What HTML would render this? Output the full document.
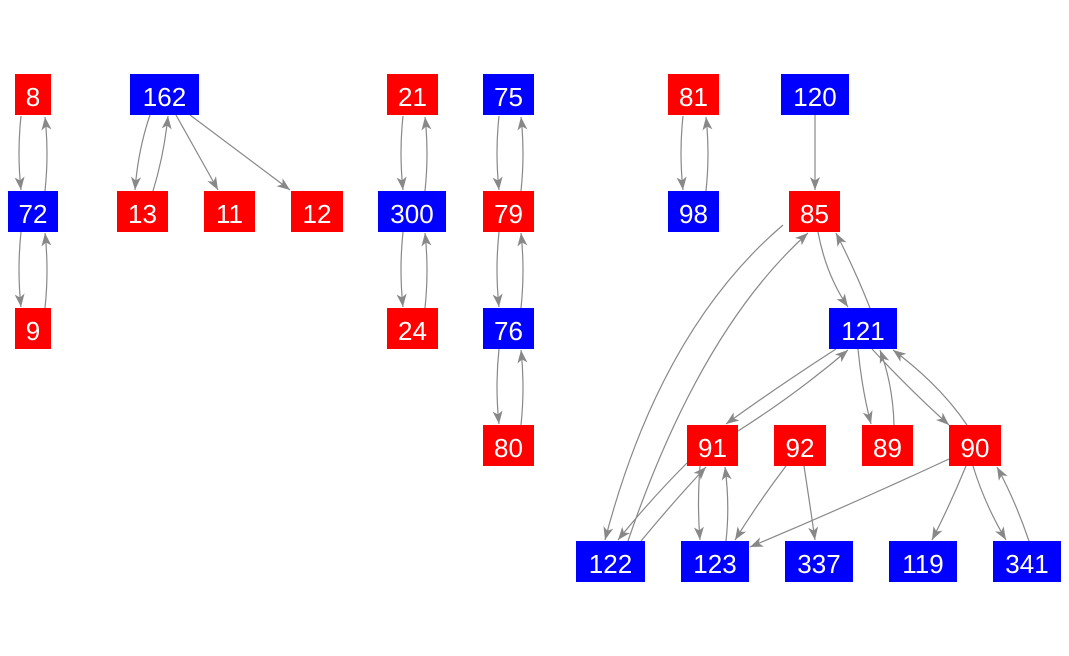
<!DOCTYPE html>
<html><head><meta charset="utf-8"><style>
html,body{margin:0;padding:0;background:#fff;}
svg{display:block}
text{font-family:"Liberation Sans",Arial,sans-serif;font-size:26px;fill:#fff;text-anchor:middle;dominant-baseline:central}
.e{fill:none;stroke:#888;stroke-width:1.2;marker-end:url(#a)}
</style></head><body>
<svg width="1069" height="656" viewBox="0 0 1069 656" xmlns="http://www.w3.org/2000/svg">
<defs><marker id="a" markerUnits="userSpaceOnUse" markerWidth="14" markerHeight="12" refX="13" refY="5" orient="auto"><path d="M0,0 L13,5 L0,10 L3.5,5 Z" fill="#888"/></marker></defs>
<g>
<path class="e" d="M21 116 Q17 153 21 190"/>
<path class="e" d="M45 191 Q49 153 45 117"/>
<path class="e" d="M21 232 Q17 270 21 307"/>
<path class="e" d="M45 308 Q49 270 45 233"/>
<path class="e" d="M150 115 Q138 150 135 190"/>
<path class="e" d="M153 191 Q164 155 168 116"/>
<path class="e" d="M176 115 L218 190"/>
<path class="e" d="M190 115 L290 190"/>
<path class="e" d="M403 116 Q399 153 403 190"/>
<path class="e" d="M425 191 Q429 153 425 117"/>
<path class="e" d="M403 232 Q399 270 403 307"/>
<path class="e" d="M425 308 Q429 270 425 233"/>
<path class="e" d="M499 116 Q495 153 499 190"/>
<path class="e" d="M521 191 Q525 153 521 117"/>
<path class="e" d="M499 232 Q495 270 499 307"/>
<path class="e" d="M521 308 Q525 270 521 233"/>
<path class="e" d="M499 349 Q495 387 499 424"/>
<path class="e" d="M521 425 Q525 387 521 350"/>
<path class="e" d="M683 116 Q679 153 683 190"/>
<path class="e" d="M706 191 Q710 153 706 117"/>
<path class="e" d="M815 115 L815 190"/>
<path class="e" d="M818 232 Q826 275 848 307"/>
<path class="e" d="M870 308 Q855 270 836 233"/>
<path class="e" d="M783 225 Q660 330 605 540"/>
<path class="e" d="M628 541 Q700 330 808 233"/>
<path class="e" d="M836 349 Q780 385 726 424"/>
<path class="e" d="M738 431 Q795 395 848 350"/>
<path class="e" d="M858 349 Q862 390 871 424"/>
<path class="e" d="M894 425 Q893 385 880 350"/>
<path class="e" d="M872 349 Q910 390 949 425"/>
<path class="e" d="M967 425 Q940 385 893 350"/>
<path class="e" d="M687 463 Q650 500 618 540"/>
<path class="e" d="M641 541 Q675 500 706 467"/>
<path class="e" d="M700 466 Q697 505 700 540"/>
<path class="e" d="M726 541 Q730 505 725 467"/>
<path class="e" d="M786 466 Q760 500 735 540"/>
<path class="e" d="M804 466 Q810 505 815 540"/>
<path class="e" d="M949 459 Q850 505 750 547"/>
<path class="e" d="M966 466 Q950 505 932 540"/>
<path class="e" d="M973 466 Q985 505 1006 540"/>
<path class="e" d="M1029 541 Q1015 500 997 467"/>
</g>
<g>
<rect x="15" y="74" width="36" height="41" fill="#f00"/><text x="33" y="97">8</text>
<rect x="8" y="191" width="50" height="41" fill="#00f"/><text x="33" y="214">72</text>
<rect x="15" y="308" width="36" height="41" fill="#f00"/><text x="33" y="331">9</text>
<rect x="130" y="74" width="69" height="41" fill="#00f"/><text x="164.5" y="97">162</text>
<rect x="117" y="191" width="51" height="41" fill="#f00"/><text x="142.5" y="214">13</text>
<rect x="204" y="191" width="51" height="41" fill="#f00"/><text x="229.5" y="214">11</text>
<rect x="291" y="191" width="52" height="41" fill="#f00"/><text x="317" y="214">12</text>
<rect x="387" y="74" width="51" height="41" fill="#f00"/><text x="412.5" y="97">21</text>
<rect x="378" y="191" width="68" height="41" fill="#00f"/><text x="412" y="214">300</text>
<rect x="387" y="308" width="51" height="41" fill="#f00"/><text x="412.5" y="331">24</text>
<rect x="483" y="74" width="51" height="41" fill="#00f"/><text x="508.5" y="97">75</text>
<rect x="483" y="191" width="51" height="41" fill="#f00"/><text x="508.5" y="214">79</text>
<rect x="483" y="308" width="51" height="41" fill="#00f"/><text x="508.5" y="331">76</text>
<rect x="483" y="425" width="51" height="41" fill="#f00"/><text x="508.5" y="448">80</text>
<rect x="668" y="74" width="51" height="41" fill="#f00"/><text x="693.5" y="97">81</text>
<rect x="668" y="191" width="51" height="41" fill="#00f"/><text x="693.5" y="214">98</text>
<rect x="781" y="74" width="68" height="41" fill="#00f"/><text x="815" y="97">120</text>
<rect x="789" y="191" width="51" height="41" fill="#f00"/><text x="814.5" y="214">85</text>
<rect x="829" y="308" width="68" height="41" fill="#00f"/><text x="863" y="331">121</text>
<rect x="687" y="425" width="51" height="41" fill="#f00"/><text x="712.5" y="448">91</text>
<rect x="774" y="425" width="52" height="41" fill="#f00"/><text x="800" y="448">92</text>
<rect x="862" y="425" width="51" height="41" fill="#f00"/><text x="887.5" y="448">89</text>
<rect x="949" y="425" width="52" height="41" fill="#f00"/><text x="975" y="448">90</text>
<rect x="576" y="541" width="69" height="41" fill="#00f"/><text x="610.5" y="564">122</text>
<rect x="681" y="541" width="68" height="41" fill="#00f"/><text x="715" y="564">123</text>
<rect x="785" y="541" width="68" height="41" fill="#00f"/><text x="819" y="564">337</text>
<rect x="889" y="541" width="68" height="41" fill="#00f"/><text x="923" y="564">119</text>
<rect x="993" y="541" width="68" height="41" fill="#00f"/><text x="1027" y="564">341</text>
</g>
</svg>
</body></html>
